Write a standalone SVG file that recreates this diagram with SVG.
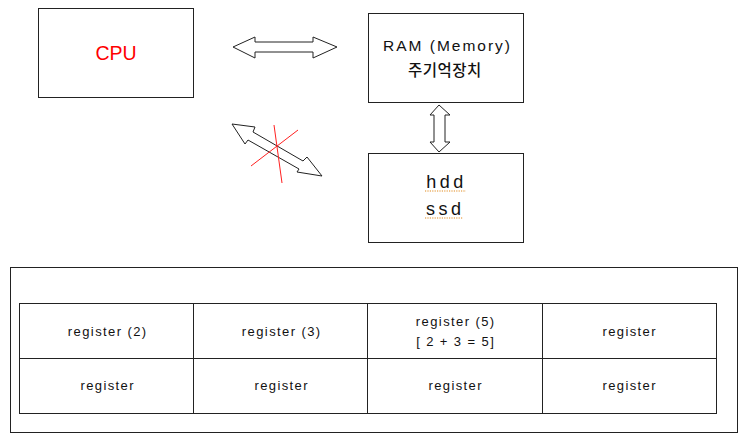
<svg xmlns="http://www.w3.org/2000/svg" width="750" height="442" viewBox="0 0 750 442">
<style>
.box{fill:#fff;stroke:#222;stroke-width:1}
.arr{fill:#fff;stroke:#222;stroke-width:1;stroke-linejoin:miter}
.t{font-family:"Liberation Sans",Arial,"Noto Sans CJK KR",sans-serif;fill:#111;text-anchor:middle}
.reg{font-size:13px;letter-spacing:1.4px}
.sq{stroke:#e08a1e;stroke-width:1.2;stroke-dasharray:1.2 1.2;fill:none}
</style>
<rect width="750" height="442" fill="#fff"/>
<g id="cpu">
<rect class="box" x="38.5" y="8.5" width="155" height="89"/>
<text class="t" x="116" y="60" font-size="19.5" style="fill:#ff0000">CPU</text>
</g>
<g id="ram">
<rect class="box" x="368.5" y="13.5" width="155" height="89"/>
<text class="t" x="447.5" y="51" font-size="15.5" letter-spacing="2">RAM (Memory)</text>
<text class="t" x="444.8" y="76" font-size="15.5" letter-spacing="0.5" font-weight="500" style="font-family:'Noto Sans CJK KR','Liberation Sans',sans-serif">주기억장치</text>
</g>
<g id="storage">
<rect class="box" x="368.5" y="153.5" width="155" height="89"/>
<text class="t" x="446.5" y="188" font-size="18" letter-spacing="3.5">hdd</text>
<text class="t" x="445.3" y="215" font-size="18" letter-spacing="3.5">ssd</text>
<line class="sq" x1="425" y1="191" x2="466" y2="191"/>
<line class="sq" x1="425" y1="218" x2="463" y2="218"/>
</g>
<g id="connectors">
<polygon class="arr" points="233,47 255,37 255,42 313,42 313,37 337,47 313,58 313,52 255,52 255,58"/>
<polygon class="arr" points="439,105 450,115 445,115 445,142 450,142 439,152 430,142 434,142 434,115 430,115"/>
<polygon class="arr" points="232,124 255,127 253,132 303,161 307,157 322,176 297,172 299,169 248,140 245,144"/>
<line x1="274" y1="125" x2="282" y2="183" stroke="#ff2020" stroke-width="1"/>
<line x1="298" y1="130" x2="251" y2="166" stroke="#ff2020" stroke-width="1"/>
</g>
<g id="registers">
<rect class="box" x="10.5" y="267.5" width="727" height="165"/>
<rect class="box" x="19.5" y="303.5" width="697" height="110"/>
<line x1="19.5" y1="358.5" x2="716.5" y2="358.5" stroke="#222"/>
<line x1="193.5" y1="303.5" x2="193.5" y2="413.5" stroke="#222"/>
<line x1="367.5" y1="303.5" x2="367.5" y2="413.5" stroke="#222"/>
<line x1="542.5" y1="303.5" x2="542.5" y2="413.5" stroke="#222"/>
<text class="t reg" x="107.7" y="336">register (2)</text>
<text class="t reg" x="281.7" y="336">register (3)</text>
<text class="t reg" x="455.7" y="326">register (5)</text>
<text class="t reg" x="455.7" y="346" xml:space="preserve">[ 2 + 3 = 5]</text>
<text class="t reg" x="629.7" y="336">register</text>
<text class="t reg" x="107.7" y="390">register</text>
<text class="t reg" x="281.7" y="390">register</text>
<text class="t reg" x="455.7" y="390">register</text>
<text class="t reg" x="629.7" y="390">register</text>
</g>
</svg>
